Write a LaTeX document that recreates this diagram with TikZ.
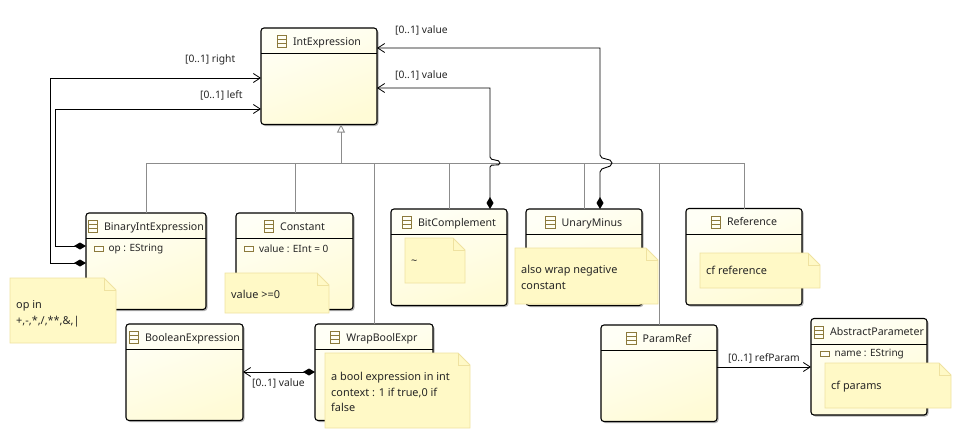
\documentclass[tikz,border=0pt]{standalone}
\usepackage{fontspec}
\setmainfont{Noto Sans}
\usepackage{xcolor}
\usepackage{tikz}
\usetikzlibrary{positioning,arrows.meta,shadows}
\definecolor{classtop}{HTML}{FFFFF6}
\definecolor{classbot}{HTML}{FFFBD6}
\definecolor{iconline}{HTML}{8C7A3C}
\definecolor{notefill}{HTML}{FFF9C6}
\definecolor{noteline}{HTML}{EFE2A0}
\definecolor{labeltext}{HTML}{262626}

\tikzset{
    classbox/.style={rectangle, draw=black, line width=1.1pt, rounded corners=3pt, anchor=north west, outer sep=0pt, minimum height=96.5pt,
        top color=classtop, bottom color=classbot, shading angle=20,
        drop shadow={shadow xshift=1.5pt, shadow yshift=-1.5pt, fill=black, opacity=0.3}},
    classname/.style={font=\fontsize{10.6}{13}\selectfont, text=labeltext, inner sep=0pt, anchor=base},
    classicon/.style={rectangle, draw=iconline, line width=0.8pt, minimum width=9.5pt, minimum height=12pt, inner sep=0pt, anchor=east,
        path picture={\draw[iconline, line width=0.8pt] ([yshift=2pt]path picture bounding box.west) -- ([yshift=2pt]path picture bounding box.east)
            ([yshift=-2pt]path picture bounding box.west) -- ([yshift=-2pt]path picture bounding box.east);}},
    attricon/.style={rectangle, draw=iconline, fill=classtop, line width=0.8pt, minimum width=9pt, minimum height=4.5pt, inner sep=0pt},
    attrname/.style={font=\fontsize{10}{12}\selectfont, text=labeltext, inner sep=0pt},
    notebody/.style={draw=noteline, fill=notefill, line width=0.9pt},
    notetext/.style={font=\fontsize{10.9}{15.5}\selectfont, text=labeltext, align=left, anchor=west, inner sep=0pt},
    linklabel/.style={font=\fontsize{10.3}{12}\selectfont, text=labeltext, inner sep=0pt},
    genline/.style={draw=gray!90, line width=0.9pt},
    genarrow/.style={genline, -{Triangle[open, fill=white, length=8pt, width=8pt]}},
    reflink/.style={draw=black, line width=0.9pt, -{Straight Barb[length=7pt, width=9pt, line width=0.8pt]}},
    complink/.style={draw=black, line width=0.9pt, {Diamond[length=12pt, width=7pt]}-{Straight Barb[length=7pt, width=9pt, line width=0.8pt]}}
}

% one class: name, left, top, width, title
\newcommand{\classnode}[5]{
    \node[classbox, minimum width=#4pt] (#1) at (#2,#3) {};
    \draw[line width=0.9pt] ([yshift=-25.5pt]#1.north west) -- ([yshift=-25.5pt]#1.north east);
    \node[classname] (#1-title) at ([xshift=8pt, yshift=-17pt]#1.north) {#5};
    \node[classicon, xshift=-6pt] (#1-icon) at ([yshift=-13.5pt]#1.north -| #1-title.west) {};
}

% one note: text shift, name, left, top, right, bottom, text
\newcommand{\notenode}[7][1.5]{
    \draw[notebody] (#3,#4) -- (#5-12,#4) -- (#5,#4+12) -- (#5,#6) -- (#3,#6) -- cycle;
    \draw[noteline, line width=0.9pt] (#5-12,#4) -- (#5-12,#4+12) -- (#5,#4+12);
    \node[notetext] (#2) at (#3+6,#4/2+#6/2+#1) {#7};
}

\begin{document}
\begin{tikzpicture}[x=1pt, y=-1pt]

\useasboundingbox (0,0) rectangle (961,439);

\classnode{intexpr}{261}{28}{116}{IntExpression}
\classnode{binary}{86}{213}{120}{BinaryIntExpression}
\classnode{constant}{236}{213}{117}{Constant}
\classnode{bitcomp}{391}{209}{116}{BitComplement}
\classnode{unary}{526}{209}{116}{UnaryMinus}
\classnode{reference}{686}{208.5}{116}{Reference}
\classnode{boolexpr}{126}{324}{117}{BooleanExpression}
\classnode{wrapbool}{315}{324}{118}{WrapBoolExpr}
\classnode{paramref}{601}{325}{116}{ParamRef}
\classnode{absparam}{811}{318.5}{116}{AbstractParameter}

% attributes
\node[attricon] (op-icon) at (98.5,249) {};
\node[attrname, right=5pt of op-icon] (op-attr) {op : EString};
\node[attricon] (value-icon) at (249,249) {};
\node[attrname, right=5pt of value-icon] (value-attr) {value : EInt = 0};
\node[attricon] (name-icon) at (824.5,354) {};
\node[attrname, right=5pt of name-icon] (name-attr) {name : EString};

% generalisation tree
\coordinate (bus) at (341,163);
\draw[genarrow] (bus) -- (bus |- intexpr.south);
\foreach \child/\dx in {binary/60, constant/59, bitcomp/58, unary/58, reference/58}
    \draw[genline] ([xshift=\dx pt]\child.north west) |- (bus);
\draw[genline] ([xshift=59pt]wrapbool.north west) |- (bus);
\draw[genline] ([xshift=58pt]paramref.north west) |- (bus);

% references
\draw[complink] ([yshift=-50pt]binary.north west) -- ++(-36,0) |- ([yshift=-50pt]intexpr.north west);
\draw[complink] ([yshift=-33pt]binary.north west) -- ++(-31,0) |- ([yshift=-81pt]intexpr.north west);
\node[linklabel, anchor=west] (right-label) at (185,60) {[0..1] right};
\node[linklabel, anchor=west] (left-label) at (200,95) {[0..1] left};

\draw[complink] ([xshift=99pt]bitcomp.north west) -- ++(0,-42)
    to[out=90, in=-90] ++(10,-4) to[out=90, in=-90] ++(-10,-6)
    |- ([yshift=-60pt]intexpr.north east);
\draw[complink] ([xshift=74pt]unary.north west) -- ++(0,-37)
    to[out=90, in=-90] ++(12,-9) to[out=90, in=-90] ++(-12,-8)
    |- ([yshift=-20pt]intexpr.north east);
\node[linklabel, anchor=west] (value-one) at (395,75) {[0..1] value};
\node[linklabel, anchor=west] (value-two) at (395,30) {[0..1] value};

\draw[complink] ([yshift=-48pt]wrapbool.north west) -- ([yshift=-48pt]boolexpr.north east);
\node[linklabel, anchor=west] (bool-label) at (252,383) {[0..1] value};

\draw[reflink] ([yshift=-42pt]paramref.north east) -- (absparam.west |- {0,367});
\node[linklabel, anchor=west] (param-label) at (728,358) {[0..1] refParam};

% notes
\notenode[3.5]{op-note}{10}{278}{116}{343}{op in\\+,-,*,/,**,\&,|}
\notenode{value-note}{225}{273}{329}{313}{value >=0}
\notenode{tilde-note}{405}{238}{465}{283}{\raisebox{-2pt}{\textasciitilde}}
\notenode{wrap-note}{515}{248}{658}{304}{also wrap negative\\constant}
\notenode[0]{reference-note}{700}{253}{820}{288}{cf reference}
\notenode{bool-note}{325}{353}{470}{428}{a bool expression in int\\context : 1 if true,0 if\\false}
\notenode{params-note}{825}{363}{951}{408}{cf params}

\end{tikzpicture}
\end{document}
